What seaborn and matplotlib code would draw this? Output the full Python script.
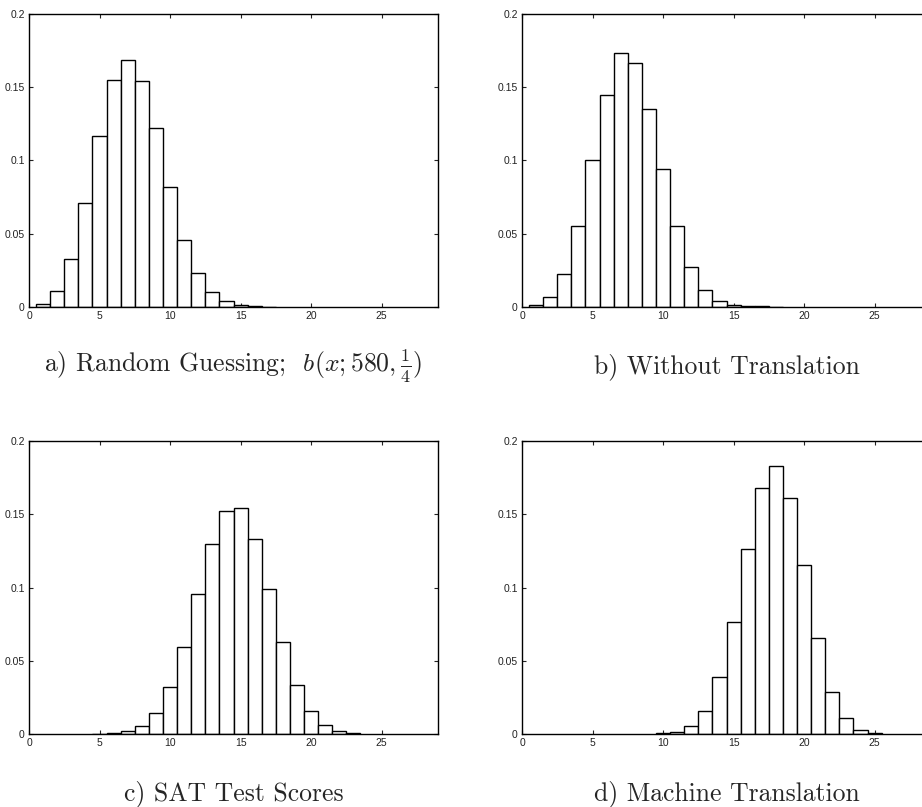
import numpy as np
import pandas as pd
import seaborn as sns
import matplotlib.pyplot as plt

# score values (x) and probabilities
scores_a = list(range(1, 18))
probs_a = [0.0023, 0.0107, 0.0327, 0.0711, 0.117, 0.155, 0.1686, 0.1545, 0.122,
           0.0818, 0.0455, 0.0232, 0.0102, 0.0039, 0.0014, 0.0005, 0.0002]

scores_b = list(range(1, 19))
probs_b = [0.0014, 0.0068, 0.0227, 0.0555, 0.100, 0.145, 0.1732, 0.1666, 0.135,
           0.0943, 0.055, 0.0273, 0.0118, 0.0041, 0.0016, 0.0007, 0.0004, 0.0001]

scores_c = list(range(5, 24))
probs_c = [0.0001, 0.0007, 0.0018, 0.0055, 0.0143, 0.0323, 0.0595, 0.0955, 0.1298,
           0.1523, 0.1541, 0.1334, 0.0989, 0.063, 0.0336, 0.0157, 0.0061, 0.002, 0.0007]

scores_d = list(range(10, 26))
probs_d = [0.0005, 0.0011, 0.0055, 0.0155, 0.0392, 0.0766, 0.1261, 0.168, 0.1827,
           0.161, 0.1152, 0.0652, 0.0284, 0.0107, 0.0027, 0.0007]

captions = ["a) Random Guessing;  $b(x;580,\\frac{1}{4})$",
            "b) Without Translation",
            "c) SAT Test Scores",
            "d) Machine Translation"]

sns.set_style("ticks")
plt.rcParams["font.family"] = ["Liberation Sans", "DejaVu Sans"]
plt.rcParams["mathtext.fontset"] = "cm"

W, H = 922, 807
fig = plt.figure(figsize=(W / 100, H / 100), dpi=100)

panels = [(scores_a, probs_a), (scores_b, probs_b), (scores_c, probs_c), (scores_d, probs_d)]
lefts = [29, 522, 29, 522]
tops = [14, 14, 441, 441]
cap_base = [373, 373, 800, 800]
aw, ah = 409, 293

for (xs, ps), l, t, cb, cap in zip(panels, lefts, tops, cap_base, captions):
    ax = fig.add_axes([l / W, 1 - (t + ah) / H, aw / W, ah / H])
    df = pd.DataFrame({"score": xs, "prob": ps})
    sns.histplot(data=df, x="score", weights="prob", discrete=True, ax=ax,
                 color="white", edgecolor="black", linewidth=1.0, alpha=1)
    ax.set_xlim(0, 29)
    ax.set_ylim(0, 0.2)
    ax.set_xticks([0, 5, 10, 15, 20, 25])
    ax.set_yticks([0, 0.05, 0.1, 0.15, 0.2])
    ax.set_yticklabels(["0", "0.05", "0.1", "0.15", "0.2"])
    ax.tick_params(direction="in", top=True, right=True, length=3, width=0.8,
                   labelsize=7.5, colors="#222222", pad=3)
    ax.set_xlabel("")
    ax.set_ylabel("")
    for s in ax.spines.values():
        s.set_linewidth(1.0)
        s.set_color("black")
    fig.text((l + aw / 2) / W, 1 - cb / H, cap, ha="center", va="baseline",
             fontsize=18.5, family="cmr10")

fig.savefig("out.png", dpi=100)
